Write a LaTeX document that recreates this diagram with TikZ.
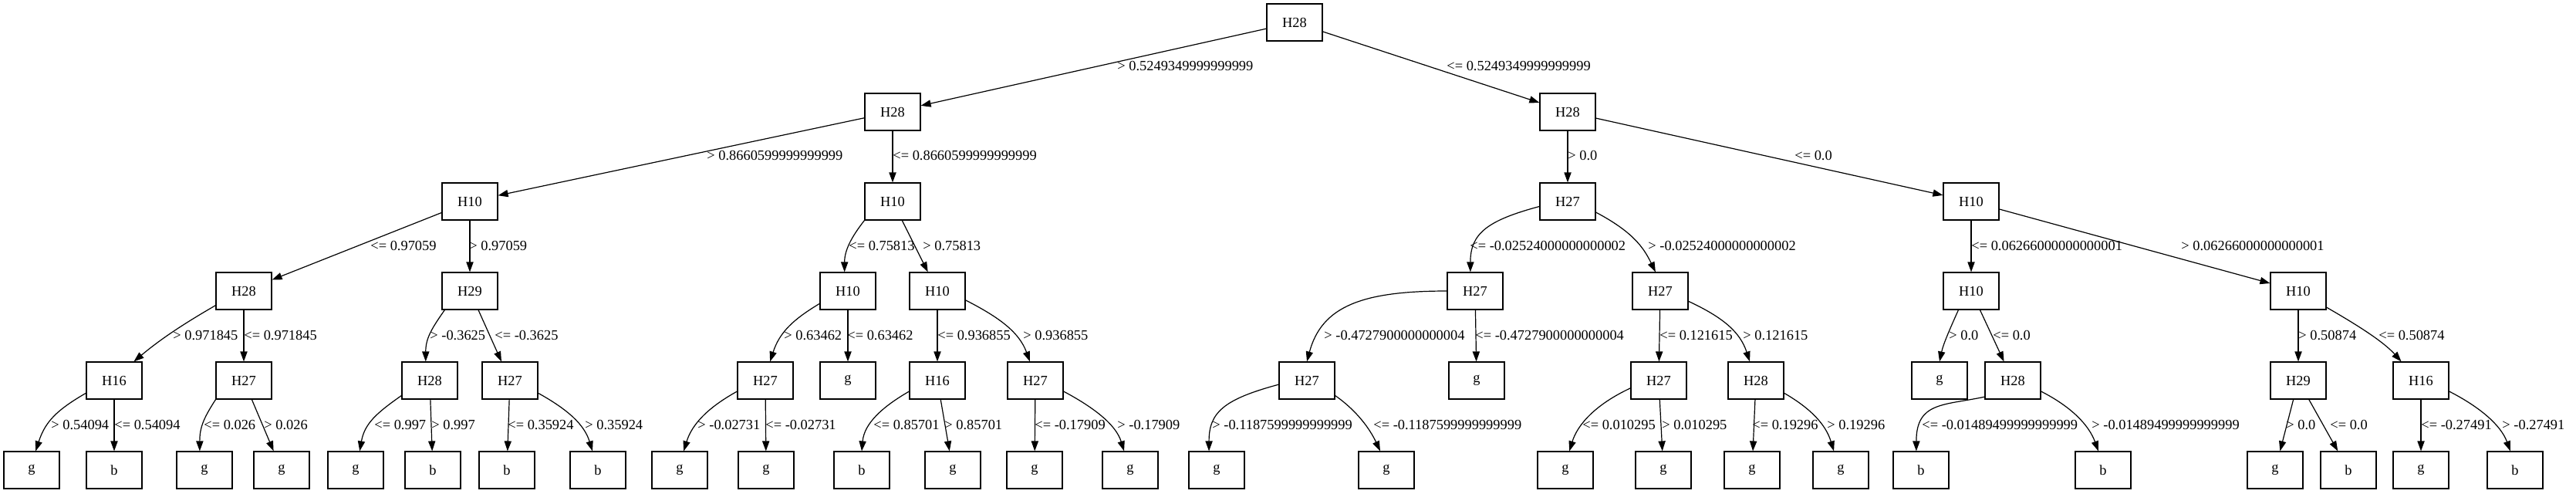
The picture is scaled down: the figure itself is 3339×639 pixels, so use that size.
\documentclass[tikz,border=0pt]{standalone}
\usepackage{fontspec}
\setmainfont{Liberation Serif}
\usetikzlibrary{arrows.meta}
\newcommand\lblfont{\fontsize{9.2}{11}\selectfont}
\tikzset{
  box/.style={draw, line width=0.6pt, minimum width=36pt, minimum height=24pt, inner sep=0pt, font=\lblfont},
  edge/.style={line width=0.6pt, -{Triangle[length=6.5pt,width=4.6pt]}},
  lbl/.style={anchor=west, inner sep=0pt, font=\lblfont},
}
\begin{document}
\begin{tikzpicture}[x=0.5pt,y=-0.5pt]
\useasboundingbox (0,0) rectangle (3339,639);
% row 0
\node[box] (r) at (1678,29) {H28};
% row 1
\node[box] (a1) at (1157,145) {H28};
\node[box] (a2) at (2032,145) {H28};
% row 2
\node[box] (b1) at (609,261) {H10};
\node[box] (b2) at (1157,261) {H10};
\node[box] (b3) at (2032,261) {H27};
\node[box] (b4) at (2555,261) {H10};
% row 3
\node[box] (c1) at (316,377) {H28};
\node[box] (c2) at (609,377) {H29};
\node[box] (c3) at (1099,377) {H10};
\node[box] (c4) at (1215,377) {H10};
\node[box] (c5) at (1912,377) {H27};
\node[box] (c6) at (2152,377) {H27};
\node[box] (c7) at (2555,377) {H10};
\node[box] (c8) at (2979,377) {H10};
% row 4
\node[box] (d1) at (148,493) {H16};
\node[box] (d2) at (316,493) {H27};
\node[box] (d3) at (557,493) {H28};
\node[box] (d4) at (661,493) {H27};
\node[box] (d5) at (992,493) {H27};
\node[box] (d6) at (1099,493) {g};
\node[box] (d7) at (1215,493) {H16};
\node[box] (d8) at (1342,493) {H27};
\node[box] (d9) at (1694,493) {H27};
\node[box] (d10) at (1914,493) {g};
\node[box] (d11) at (2150,493) {H27};
\node[box] (d12) at (2276,493) {H28};
\node[box] (d13) at (2514,493) {g};
\node[box] (d14) at (2609,493) {H28};
\node[box] (d15) at (2979,493) {H29};
\node[box] (d16) at (3138,493) {H16};
% row 5
\node[box] (e1) at (41,609) {g};
\node[box] (e2) at (148,609) {b};
\node[box] (e3) at (265,609) {g};
\node[box] (e4) at (365,609) {g};
\node[box] (e5) at (461,609) {g};
\node[box] (e6) at (561,609) {b};
\node[box] (e7) at (657,609) {b};
\node[box] (e8) at (775,609) {b};
\node[box] (e9) at (881,609) {g};
\node[box] (e10) at (993,609) {g};
\node[box] (e11) at (1117,609) {b};
\node[box] (e12) at (1235,609) {g};
\node[box] (e13) at (1341,609) {g};
\node[box] (e14) at (1465,609) {g};
\node[box] (e15) at (1577,609) {g};
\node[box] (e16) at (1797,609) {g};
\node[box] (e17) at (2029,609) {g};
\node[box] (e18) at (2156,609) {g};
\node[box] (e19) at (2271,609) {g};
\node[box] (e20) at (2386,609) {g};
\node[box] (e21) at (2490,609) {b};
\node[box] (e22) at (2726,609) {b};
\node[box] (e23) at (2949,609) {g};
\node[box] (e24) at (3044,609) {b};
\node[box] (e25) at (3138,609) {g};
\node[box] (e26) at (3260,609) {b};
% straight edges
\draw[edge] (r) -- (a1);
\draw[edge] (r) -- (a2);
\draw[edge] (a1) -- (b1);
\draw[edge] (a1) -- (b2);
\draw[edge] (a2) -- (b3);
\draw[edge] (a2) -- (b4);
\draw[edge] (b1) -- (c1);
\draw[edge] (b1) -- (c2);
\draw[edge] (b2) -- (c4);
\draw[edge] (b4) -- (c7);
\draw[edge] (b4) -- (c8);
\draw[edge] (c1) -- (d2);
\draw[edge] (c2) -- (d4);
\draw[edge] (c3) -- (d6);
\draw[edge] (c4) -- (d7);
\draw[edge] (c5) -- (d10);
\draw[edge] (c6) -- (d11);
\draw[edge] (c7) -- (d14);
\draw[edge] (c8) -- (d15);
\draw[edge] (d1) -- (e2);
\draw[edge] (d2) -- (e4);
\draw[edge] (d3) -- (e6);
\draw[edge] (d4) -- (e7);
\draw[edge] (d5) -- (e10);
\draw[edge] (d7) -- (e12);
\draw[edge] (d8) -- (e13);
\draw[edge] (d11) -- (e18);
\draw[edge] (d12) -- (e19);
\draw[edge] (d15) -- (e23);
\draw[edge] (d15) -- (e24);
\draw[edge] (d16) -- (e25);
% curved edges
\draw[edge] (b2.south west) to[out=-128,in=90,out distance=14pt,in distance=14pt] (c3.100);
\draw[edge] (b3.190) to[out=195,in=90,out distance=35pt,in distance=25pt] (c5.104);
\draw[edge] (b3.-21) to[out=-28,in=116,out distance=27pt,in distance=18pt] (c6.104);
\draw[edge] (c1.207) to[out=210,in=40,out distance=25pt,in distance=22pt] (d1.44);
\draw[edge] (c2.217) to[out=235,in=90,out distance=15pt,in distance=15pt] (d3.102);
\draw[edge] (c3.204) to[out=211,in=72,out distance=20pt,in distance=20pt] (d5.76);
\draw[edge] (c4.-18) to[out=-27,in=110,out distance=25pt,in distance=20pt] (d8.106);
\draw[edge] (c5.west) to[out=180,in=75,out distance=55pt,in distance=37pt] (d9.north);
\draw[edge] (c6.-20) to[out=-25,in=108,out distance=25pt,in distance=20pt] (d12.108);
\draw[edge] (c7.236) to[out=-114,in=78,out distance=12pt,in distance=12pt] (d13.north);
\draw[edge] (c8.-30) to[out=-30,in=132,out distance=22pt,in distance=18pt] (d16.136);
\draw[edge] (d1.204) to[out=210,in=72,out distance=22pt,in distance=20pt] (e1.78);
\draw[edge] (d2.214) to[out=237,in=90,out distance=15pt,in distance=15pt] (e3.104);
\draw[edge] (d3.208) to[out=215,in=80,out distance=20pt,in distance=18pt] (e5.78);
\draw[edge] (d4.-24) to[out=-29,in=107,out distance=22pt,in distance=18pt] (e8.106);
\draw[edge] (d5.201) to[out=209,in=73,out distance=22pt,in distance=18pt] (e9.78);
\draw[edge] (d7.201) to[out=210,in=85,out distance=20pt,in distance=18pt] (e11.north);
\draw[edge] (d8.-21) to[out=-28,in=107,out distance=22pt,in distance=18pt] (e14.108);
\draw[edge] (d9.188) to[out=195,in=90,out distance=37pt,in distance=25pt] (e15.112);
\draw[edge] (d9.-28) to[out=-35,in=115,out distance=18pt,in distance=15pt] (e16.108);
\draw[edge] (d11.195) to[out=205,in=73,out distance=25pt,in distance=18pt] (e17.78);
\draw[edge] (d12.-24) to[out=-30,in=107,out distance=20pt,in distance=18pt] (e20.110);
\draw[edge] (d14.210) to[out=192,in=90,out distance=27pt,in distance=32pt] (e21.104);
\draw[edge] (d14.-21) to[out=-27,in=110,out distance=22pt,in distance=18pt] (e22.104);
\draw[edge] (d16.-21) to[out=-27,in=110,out distance=22pt,in distance=18pt] (e26.104);
% labels row 0-1
\node[lbl] (t1) at (1448,86) {> 0.5249349999999999};
\node[lbl] (t2) at (1875,86) {<= 0.5249349999999999};
% labels row 1-2
\node[lbl] (t3) at (916,202) {> 0.8660599999999999};
\node[lbl] (t4) at (1157,202) {<= 0.8660599999999999};
\node[lbl] (t5) at (2032,202) {> 0.0};
\node[lbl] (t6) at (2326,202) {<= 0.0};
% labels row 2-3
\node[lbl] (t7) at (480,318) {<= 0.97059};
\node[lbl] (t8) at (608,318) {> 0.97059};
\node[lbl] (t9) at (1100,318) {<= 0.75813};
\node[lbl] (t10) at (1196,318) {> 0.75813};
\node[lbl] (t11) at (1905,318) {<= -0.02524000000000002};
\node[lbl] (t12) at (2136,318) {> -0.02524000000000002};
\node[lbl] (t13) at (2555,318) {<= 0.06266000000000001};
\node[lbl] (t14) at (2827,318) {> 0.06266000000000001};
% labels row 3-4
\node[lbl] (t15) at (224,434) {> 0.971845};
\node[lbl] (t16) at (316,434) {<= 0.971845};
\node[lbl] (t17) at (557,434) {> -0.3625};
\node[lbl] (t18) at (641,434) {<= -0.3625};
\node[lbl] (t19) at (1016,434) {> 0.63462};
\node[lbl] (t20) at (1098,434) {<= 0.63462};
\node[lbl] (t21) at (1215,434) {<= 0.936855};
\node[lbl] (t22) at (1326,434) {> 0.936855};
\node[lbl] (t23) at (1716,434) {> -0.4727900000000004};
\node[lbl] (t24) at (1912,434) {<= -0.4727900000000004};
\node[lbl] (t25) at (2151,434) {<= 0.121615};
\node[lbl] (t26) at (2259,434) {> 0.121615};
\node[lbl] (t27) at (2526,434) {> 0.0};
\node[lbl] (t28) at (2583,434) {<= 0.0};
\node[lbl] (t29) at (2979,434) {> 0.50874};
\node[lbl] (t30) at (3083,434) {<= 0.50874};
% labels row 4-5
\node[lbl] (t31) at (66,550) {> 0.54094};
\node[lbl] (t32) at (148,550) {<= 0.54094};
\node[lbl] (t33) at (264,550) {<= 0.026};
\node[lbl] (t34) at (342,550) {> 0.026};
\node[lbl] (t35) at (485,550) {<= 0.997};
\node[lbl] (t36) at (559,550) {> 0.997};
\node[lbl] (t37) at (658,550) {<= 0.35924};
\node[lbl] (t38) at (758,550) {> 0.35924};
\node[lbl] (t39) at (904,550) {> -0.02731};
\node[lbl] (t40) at (992,550) {<= -0.02731};
\node[lbl] (t41) at (1132,550) {<= 0.85701};
\node[lbl] (t42) at (1224,550) {> 0.85701};
\node[lbl] (t43) at (1341,550) {<= -0.17909};
\node[lbl] (t44) at (1448,550) {> -0.17909};
\node[lbl] (t45) at (1571,550) {> -0.1187599999999999};
\node[lbl] (t46) at (1780,550) {<= -0.1187599999999999};
\node[lbl] (t47) at (2051,550) {<= 0.010295};
\node[lbl] (t48) at (2154,550) {> 0.010295};
\node[lbl] (t49) at (2271,550) {<= 0.19296};
\node[lbl] (t50) at (2368,550) {> 0.19296};
\node[lbl] (t51) at (2491,550) {<= -0.01489499999999999};
\node[lbl] (t52) at (2711,550) {> -0.01489499999999999};
\node[lbl] (t53) at (2963,550) {> 0.0};
\node[lbl] (t54) at (3020,550) {<= 0.0};
\node[lbl] (t55) at (3138,550) {<= -0.27491};
\node[lbl] (t56) at (3243,550) {> -0.27491};
\end{tikzpicture}
\end{document}
